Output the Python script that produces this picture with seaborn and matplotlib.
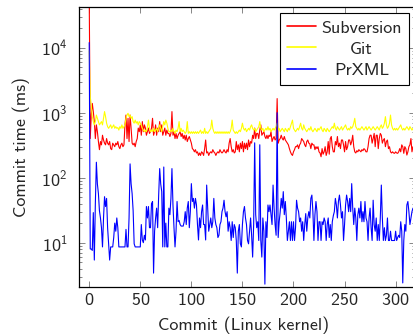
import numpy as np
import pandas as pd
import seaborn as sns
import matplotlib
matplotlib.use("Agg")
import matplotlib.pyplot as plt
from matplotlib.ticker import LogLocator, NullFormatter

# Commit times in ms, one value per commit
svn = [
    60000, 400, 920, 1390, 1040, 730, 400, 650, 510, 360,
    270, 360, 320, 450, 380, 340, 320, 400, 340, 320,
    360, 280, 270, 340, 320, 300, 340, 320, 360, 300,
    280, 320, 340, 300, 320, 650, 920, 400, 820, 360,
    920, 580, 340, 320, 340, 300, 360, 400, 580, 510,
    650, 450, 730, 510, 650, 580, 450, 510, 580, 480,
    510, 580, 820, 450, 510, 650, 450, 580, 510, 730,
    510, 650, 450, 510, 580, 450, 540, 480, 480, 430,
    480, 1040, 450, 510, 400, 480, 400, 450, 480, 510,
    430, 480, 400, 450, 380, 450, 360, 400, 430, 380,
    340, 280, 270, 250, 270, 240, 250, 220, 240, 220,
    250, 240, 220, 280, 380, 240, 250, 220, 240, 250,
    240, 270, 250, 240, 220, 240, 250, 240, 270, 250,
    240, 250, 270, 250, 240, 270, 250, 340, 400, 300,
    250, 270, 240, 250, 360, 270, 320, 250, 340, 280,
    360, 250, 340, 280, 340, 270, 380, 300, 360, 340,
    450, 400, 580, 400, 480, 480, 400, 540, 650, 450,
    480, 510, 430, 400, 450, 400, 450, 430, 510, 360,
    400, 430, 380, 400, 1650, 340, 380, 400, 450, 400,
    380, 430, 380, 360, 340, 320, 280, 250, 230, 220,
    250, 270, 300, 300, 320, 280, 320, 340, 400, 380,
    360, 320, 300, 360, 380, 340, 330, 280, 340, 320,
    320, 270, 300, 280, 300, 250, 240, 210, 280, 230,
    250, 300, 220, 250, 360, 230, 400, 430, 300, 250,
    250, 360, 320, 430, 300, 340, 280, 380, 380, 320,
    250, 360, 270, 300, 380, 380, 320, 360, 450, 300,
    250, 240, 260, 250, 270, 260, 250, 270, 260, 280,
    270, 250, 250, 300, 400, 450, 450, 340, 400, 480,
    300, 450, 450, 280, 400, 480, 450, 340, 380, 400,
    300, 360, 380, 280, 300, 250, 240, 250, 240, 237,
    250, 240, 237, 250, 280, 250, 320, 300, 237, 300,
    280, 223, 250, 300, 320, 400, 250, 300,
]

git = [
    9000, 1760, 1310, 870, 730, 650, 730, 920, 820, 730,
    650, 690, 730, 650, 820, 1040, 870, 690, 610, 575,
    610, 650, 575, 610, 650, 575, 610, 575, 590, 540,
    610, 575, 650, 575, 610, 650, 820, 920, 980, 870,
    920, 820, 870, 730, 690, 770, 690, 730, 650, 730,
    690, 650, 575, 540, 510, 540, 510, 610, 770, 575,
    510, 540, 510, 575, 510, 540, 575, 510, 575, 650,
    575, 510, 610, 730, 650, 770, 690, 575, 510, 510,
    540, 510, 575, 510, 480, 540, 510, 575, 730, 510,
    575, 510, 540, 510, 480, 510, 730, 480, 510, 480,
    510, 480, 510, 480, 510, 480, 510, 480, 510, 540,
    480, 510, 480, 575, 480, 510, 480, 510, 540, 575,
    770, 575, 510, 480, 510, 480, 510, 480, 510, 480,
    510, 480, 510, 480, 510, 480, 510, 480, 510, 575,
    770, 540, 510, 480, 510, 480, 510, 540, 510, 575,
    690, 575, 540, 575, 510, 540, 575, 540, 610, 650,
    575, 540, 575, 510, 540, 575, 610, 730, 575, 540,
    575, 510, 540, 575, 540, 610, 540, 575, 510, 540,
    575, 540, 575, 610, 690, 540, 575, 510, 540, 575,
    540, 510, 575, 540, 510, 575, 540, 610, 690, 770,
    575, 540, 510, 540, 575, 540, 610, 690, 575, 540,
    650, 575, 540, 510, 540, 575, 540, 610, 540, 510,
    540, 575, 540, 510, 575, 540, 575, 610, 540, 510,
    575, 540, 510, 575, 540, 510, 540, 575, 610, 575,
    690, 575, 540, 610, 575, 540, 575, 610, 540, 575,
    610, 650, 575, 540, 575, 540, 610, 575, 610, 690,
    820, 610, 575, 540, 575, 540, 575, 610, 575, 540,
    575, 610, 540, 575, 610, 575, 540, 575, 610, 575,
    540, 575, 610, 575, 540, 610, 650, 575, 610, 690,
    870, 650, 575, 610, 690, 920, 650, 575, 540, 575,
    540, 575, 540, 575, 610, 650, 575, 540, 575, 540,
    575, 610, 575, 540, 610, 575, 540, 575,
]

prxml = [
    12000, 8, 8, 7.6, 29, 5.4, 40, 173, 80, 57,
    31, 24, 17, 8.6, 24, 51, 36, 48, 17, 9.6,
    5.4, 8.6, 8.6, 8.6, 12, 20, 15, 24, 17, 8.6,
    8.6, 8.6, 8.6, 8.6, 8.6, 8.6, 16, 8.6, 8.6, 24,
    163, 81, 57, 31, 9.6, 8.6, 8.6, 8.6, 8.6, 8.6,
    8.6, 19, 11, 10, 13, 11, 36, 24, 36, 17,
    17, 40, 43, 3.4, 15, 24, 34, 17, 54, 138,
    80, 61, 8.6, 146, 8.6, 20, 8.6, 8.6, 34, 27,
    48, 138, 38, 17, 8.6, 15, 43, 21, 22, 19,
    18, 18, 18, 21, 30, 19, 34, 43, 17, 30,
    81, 43, 48, 34, 48, 38, 19, 11, 24, 17,
    30, 38, 19, 19, 11, 77, 34, 15, 19, 24,
    17, 21, 48, 24, 19, 17, 12, 13, 19, 21,
    30, 34, 45, 30, 25, 30, 15, 21, 17, 10.8,
    21, 12, 19, 17, 10.8, 3.4, 15, 19, 9.6, 8.6,
    19, 30, 36, 24, 19, 10.8, 9.6, 15, 24, 13,
    6, 19, 344, 27, 17, 21, 10.8, 321, 10.8, 6,
    24, 15, 2.3, 21, 12, 38, 30, 38, 27, 19,
    77, 34, 19, 13, 1000, 12, 21, 30, 48, 34,
    61, 27, 43, 24, 10.8, 15, 21, 10.8, 21, 10.8,
    21, 10.8, 17, 45, 34, 30, 21, 24, 15, 21,
    10.8, 19, 28, 15, 24, 30, 24, 48, 54, 30,
    10.8, 27, 43, 30, 10.8, 21, 21, 10.8, 21, 19,
    24, 21, 10.8, 19, 24, 12, 19, 10.8, 21, 26,
    30, 48, 38, 24, 43, 54, 38, 24, 30, 10.8,
    19, 38, 54, 43, 30, 48, 30, 81, 34, 19,
    34, 24, 10.8, 27, 34, 24, 43, 21, 30, 21,
    43, 24, 21, 10.8, 24, 34, 17, 10.8, 45, 19,
    15, 24, 10.8, 19, 10.8, 24, 77, 24, 10.8, 17,
    10.8, 13, 24, 10.8, 10.8, 15, 10.8, 10.8, 10.8, 10.8,
    15, 10.8, 12, 13, 12, 21, 15, 2.4, 10.8, 19,
    15, 38, 43, 30, 19, 24, 30, 34,
]

series = [("Subversion", svn), ("Git", git), ("PrXML", prxml)]
colors = {"Subversion": "red", "Git": "yellow", "PrXML": "blue"}

frames = []
for name, vals in series:
    frames.append(pd.DataFrame({"commit": np.arange(len(vals)), "ms": vals, "system": name}))
df = pd.concat(frames, ignore_index=True)

sns.set_style("ticks")
plt.rcParams["font.family"] = "cmss10"
plt.rcParams["axes.formatter.use_mathtext"] = True
plt.rcParams["mathtext.fontset"] = "cm"

fig = plt.figure(figsize=(4.13, 3.36), dpi=100)
ax = fig.add_axes([0.1913, 0.1467, 0.8136, 0.8316])

sns.lineplot(data=df, x="commit", y="ms", hue="system", palette=colors,
             estimator=None, linewidth=0.8, legend=False, ax=ax)

ax.set_yscale("log")
ax.set_xlim(-10, 319)
ax.set_ylim(2.1, 41900)
ax.set_xticks(range(0, 301, 50))
ax.yaxis.set_major_locator(LogLocator(base=10, numticks=10))
ax.yaxis.set_minor_locator(LogLocator(base=10, subs=range(2, 10), numticks=10))
ax.yaxis.set_minor_formatter(NullFormatter())

ax.tick_params(which="both", direction="in", top=True, right=True, color="0.45", width=0.6)
ax.tick_params(which="major", length=4.5, labelsize=13)
ax.tick_params(which="minor", length=2.5)
ax.tick_params(axis="x", pad=4)
ax.tick_params(axis="y", pad=8)
for sp in ax.spines.values():
    sp.set_color("black")
    sp.set_linewidth(0.9)

ax.set_xlabel("Commit (Linux kernel)", fontsize=13, ha="left")
ax.xaxis.set_label_coords(0.235, -0.108)
ax.set_ylabel("Commit time (ms)", fontsize=13, labelpad=8)

leg = ax.legend(ax.lines, [s[0] for s in series], loc="upper right",
                bbox_to_anchor=(0.982, 0.980), borderaxespad=0, fancybox=False,
                framealpha=1, edgecolor="black", fontsize=13, handlelength=1.6,
                handletextpad=0.3, borderpad=0.4, labelspacing=0.3)
leg.get_frame().set_linewidth(0.8)
for h in leg.get_lines():
    h.set_linewidth(1.2)

# centre the legend labels in their column, like the original
fig.canvas.draw()
renderer = fig.canvas.get_renderer()
widths = [t.get_window_extent(renderer).width for t in leg.get_texts()]
for t, w in zip(leg.get_texts(), widths):
    t.set_x((max(widths) - w) / 2)

fig.savefig("out.png", dpi=100)
